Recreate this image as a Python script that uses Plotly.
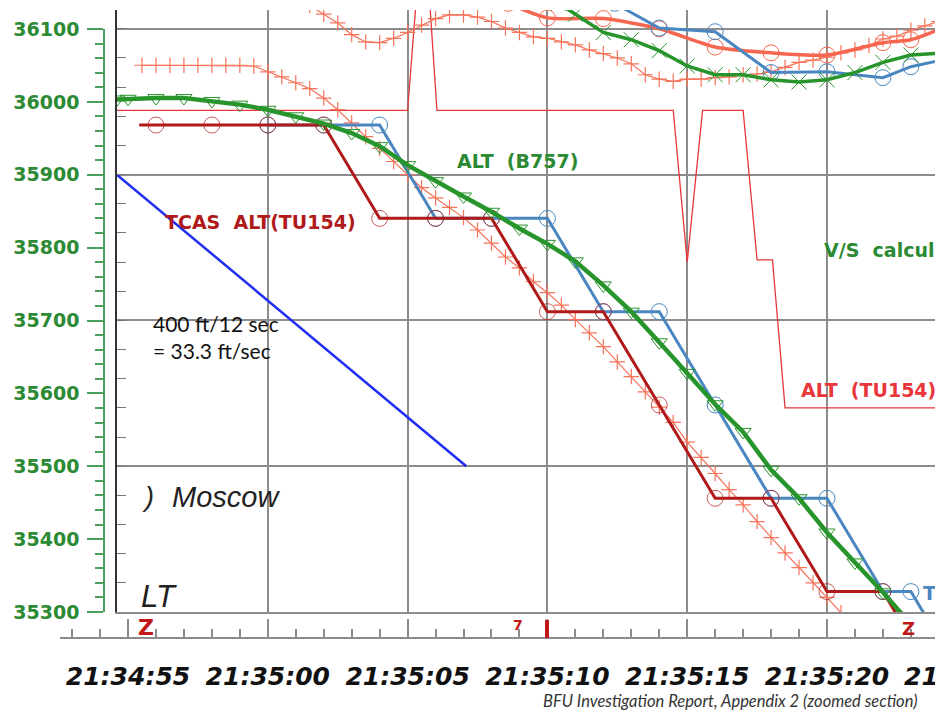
import plotly.graph_objects as go

# page body has an 8 px margin, so the figure occupies page pixels 8..943 / 8..711
OX, OY = 8, 8
W, H = 943 - OX, 711 - OY

# ---------------- data (time in seconds after 21:34:55, altitude in ft) ----------------
tick_times = [0, 5, 10, 15, 20, 25]
tick_labels = ["21:34:55", "21:35:00", "21:35:05", "21:35:10", "21:35:15", "21:35:20"]
next_tick_label = "21:35:25"

# TCAS ALT (TU154) - dark red, stepped
tcas_tu_t = [0.4, 1, 3, 5, 7, 9, 11, 13, 15, 17, 19, 21, 23, 25, 27, 29]
tcas_tu_alt = [35968, 35968, 35968, 35968, 35968, 35840, 35840, 35840, 35712, 35712,
               35584, 35456, 35456, 35328, 35328, 35200]

# TCAS ALT (B757) - blue, stepped
tcas_b7_t = [5, 7, 9, 11, 13, 15, 17, 19, 21, 23, 25, 27, 28, 30]
tcas_b7_alt = [35968, 35968, 35968, 35840, 35840, 35840, 35712, 35712, 35584, 35456,
               35456, 35328, 35328, 35200]

# ALT (B757) - green with triangles
alt_b7_t = [-0.4, 0, 1, 2, 3, 4, 5, 6, 7, 8, 9, 10, 11, 12, 13, 14, 15, 16, 17, 18, 19,
            20, 21, 22, 23, 24, 25, 26, 27, 28]
alt_b7_alt = [36003, 36004, 36005, 36005, 36001, 35996, 35989, 35980, 35970, 35957, 35939,
              35913, 35891, 35870, 35849, 35826, 35805, 35781, 35748, 35712, 35670, 35628,
              35585, 35547, 35495, 35456, 35409, 35368, 35327, 35283]

# fine altitude (TU154) - thin salmon with + markers
alt_tu_t = [0.5, 1.0, 1.5, 2.0, 2.5, 3.0, 3.5, 4.0, 4.5, 5.0, 5.5, 6.0, 6.5, 7.0, 7.5,
            8.0, 8.5, 9.0, 9.5, 10.0, 10.5, 11.0, 11.5, 12.0, 12.5, 13.0, 13.5, 14.0,
            14.5, 15.0, 15.5, 16.0, 16.5, 17.0, 17.5, 18.0, 18.5, 19.0, 19.5, 20.0,
            20.5, 21.0, 21.5, 22.0, 22.5, 23.0, 23.5, 24.0, 24.5, 25.0, 25.5]
alt_tu_alt = [36050, 36050, 36050, 36050, 36050, 36050, 36050, 36050, 36049, 36041, 36034,
              36026, 36018, 36005, 35989, 35971, 35952, 35936, 35918, 35900, 35882, 35868,
              35855, 35841, 35824, 35806, 35787, 35772, 35753, 35738, 35721, 35701, 35683,
              35664, 35643, 35623, 35602, 35581, 35560, 35533, 35512, 35490, 35468, 35447,
              35424, 35402, 35381, 35361, 35340, 35320, 35299]

# upper thin salmon trace with + markers
up_salmon_t = [6.0, 6.5, 7.0, 7.5, 8.0, 8.5, 9.0, 9.5, 10.0, 10.5, 11.0, 11.5, 12.0, 12.5,
               13.0, 13.5, 14.0, 14.5, 15.0, 15.5, 16.0, 16.5, 17.0, 17.5, 18.0, 18.5,
               19.0, 19.5, 20.0, 20.5, 21.0, 21.5, 22.0, 22.5, 23.0, 23.5, 24.0, 24.5,
               25.0, 25.5, 26.0, 26.5, 27.0, 27.5, 28.0, 28.5, 29.0]
up_salmon_alt = [36150, 36132, 36120, 36108, 36092, 36082, 36081, 36087, 36095, 36105, 36114,
                 36119, 36119, 36116, 36110, 36101, 36095, 36089, 36087, 36082, 36078,
                 36071, 36066, 36060, 36052, 36037, 36031, 36028, 36031, 36031, 36033,
                 36034, 36037, 36038, 36041, 36047, 36054, 36057, 36061, 36067, 36071,
                 36077, 36086, 36090, 36098, 36104, 36110]

# upper thick salmon trace with circles
up_thick_t = [13.6, 15, 17, 19, 21, 23, 25, 27, 28, 29.2]
up_thick_alt = [36135, 36115, 36114, 36100, 36075, 36067, 36064, 36081, 36085, 36102]

# upper blue trace with circles
up_blue_t = [17.4, 19, 21, 23, 25, 27, 28, 29.2]
up_blue_alt = [36135, 36101, 36096, 36040, 36041, 36033, 36048, 36058]

# upper green trace with X markers
up_green_t = [15.4, 16, 17, 18, 19, 20, 21, 22, 23, 24, 25, 26, 27, 28, 29.2]
up_green_alt = [36135, 36120, 36095, 36085, 36070, 36049, 36037, 36037, 36030, 36027,
                36030, 36040, 36054, 36064, 36067]

# thin red step trace (ALT TU154 / V/S)
red_step_t = [-0.4, 10.0, 10.35, 10.75, 11.05, 19.5, 20.0, 20.55, 22.0, 22.5, 23.05, 23.5, 29.2]
red_step_alt = [35988, 35988, 36160, 36160, 35988, 35988, 35780, 35988, 35988, 35783,
                35783, 35580, 35580]

# reference slope line: 400 ft / 12 sec
ref_t = [-0.4, 12.1]
ref_alt = [35900, 35500]

# ---------------- colours ----------------
GREEN = "#28952c"
GREEN_LBL = "#2b8a33"
DARKRED = "#b01a1a"
BLUE = "#4a86c0"
SALMON = "#f7735a"
THICKSALMON = "#f76650"
RED = "#e8363a"
REFBLUE = "#1f2df5"
GRID = "#8c8c8c"


def px(x):
    return (x - OX) / W


def py(y):
    return 1 - (y - OY) / H


fig = go.Figure()

fig.add_trace(go.Scatter(x=red_step_t, y=red_step_alt, mode="lines",
                         line=dict(color=RED, width=1.3)))
fig.add_trace(go.Scatter(x=alt_tu_t, y=alt_tu_alt, mode="lines+markers",
                         line=dict(color=SALMON, width=1.2),
                         marker=dict(symbol="cross-thin-open", size=11,
                                     line=dict(color=SALMON, width=1.2))))
fig.add_trace(go.Scatter(x=up_salmon_t, y=up_salmon_alt, mode="lines+markers",
                         line=dict(color=SALMON, width=1.2),
                         marker=dict(symbol="cross-thin-open", size=11,
                                     line=dict(color=SALMON, width=1.2))))
fig.add_trace(go.Scatter(x=up_thick_t, y=up_thick_alt, mode="lines+markers",
                         line=dict(color=THICKSALMON, width=3.5, shape="spline", smoothing=0.7),
                         marker=dict(symbol="circle-open", size=16,
                                     line=dict(color=THICKSALMON, width=1))))
fig.add_trace(go.Scatter(x=up_blue_t, y=up_blue_alt, mode="lines+markers",
                         line=dict(color=BLUE, width=3),
                         marker=dict(symbol="circle-open", size=16,
                                     line=dict(color=BLUE, width=1))))
fig.add_trace(go.Scatter(x=up_green_t, y=up_green_alt, mode="lines+markers",
                         line=dict(color=GREEN, width=3.5),
                         marker=dict(symbol="x-thin-open", size=15,
                                     line=dict(color="#5aa85a", width=1))))
fig.add_trace(go.Scatter(x=ref_t, y=ref_alt, mode="lines",
                         line=dict(color=REFBLUE, width=2.5)))
fig.add_trace(go.Scatter(x=tcas_b7_t, y=tcas_b7_alt, mode="lines+markers",
                         line=dict(color=BLUE, width=3),
                         marker=dict(symbol="circle-open", size=16,
                                     line=dict(color=BLUE, width=1))))
fig.add_trace(go.Scatter(x=tcas_tu_t, y=tcas_tu_alt, mode="lines+markers",
                         line=dict(color=DARKRED, width=3),
                         marker=dict(symbol="circle-open",
                                     size=[0] + [16] * (len(tcas_tu_t) - 2) + [0],
                                     line=dict(color=DARKRED, width=1))))
fig.add_trace(go.Scatter(x=alt_b7_t, y=alt_b7_alt, mode="lines+markers",
                         line=dict(color=GREEN, width=4.5),
                         marker=dict(symbol="triangle-down-open", size=14,
                                     line=dict(color="#4a9e4a", width=1))))

# dummy trace so the secondary axes render
fig.add_trace(go.Scatter(x=[None], y=[None], xaxis="x2", yaxis="y2", mode="markers"))

annotations = []


def label(text, x, y, color, size=19, family="DejaVu Sans", weight="bold", style="normal",
          xanchor="left", align="left"):
    annotations.append(dict(text=text, x=px(x), y=py(y), xref="paper", yref="paper",
                            xanchor=xanchor, yanchor="middle", showarrow=False, align=align,
                            font=dict(family=family, size=size, color=color,
                                      weight=weight, style=style)))


label("ALT  (B757)", 455, 161, GREEN_LBL)
label("TCAS  ALT(TU154)", 163, 222, DARKRED)
label("V/S  calculated", 822, 250, GREEN_LBL)
label("ALT  (TU154)", 799, 390, RED)
label("TCAS ALT(B757)", 921, 593, BLUE)
label("400 ft/12 sec<br>= 33.3 ft/sec", 151, 337, "#111111", size=21, family="Lato",
      weight="normal")
label(")", 140, 497, "#222222", size=27, family="Liberation Sans", weight="normal",
      style="italic")
label("Moscow", 170, 497, "#222222", size=29, family="Liberation Sans", weight="normal",
      style="italic")
label("LT", 139, 596, "#222222", size=31, family="Liberation Sans", weight="normal",
      style="italic")
label("BFU Investigation Report, Appendix 2 (zoomed section)", 920, 701, "#333333",
      size=16.5, family="Lato", weight="normal", style="italic", xanchor="right")
label(next_tick_label, 966, 676, "#111111", size=25, family="DejaVu Sans", style="italic",
      xanchor="center")
label("Z", 136, 627, "#c01818", size=22)
label("7", 511, 625, "#c01818", size=14)
label("Z", 900, 628, "#c01818", size=18)

shapes = [dict(type="line", xref="paper", yref="paper", x0=px(547), x1=px(547),
               y0=py(620), y1=py(638), line=dict(color="#c01818", width=4))]

x_left = (117 - 128) / 27.96
x_right = (943 - 128) / 27.96
x2_left = (60 - 128) / 27.96
y_top = 35300 + (612 - 10) / 0.729

fig.update_layout(
    width=W, height=H,
    margin=dict(l=0, r=0, t=0, b=0, pad=0),
    paper_bgcolor="white",
    plot_bgcolor="rgba(0,0,0,0)",
    showlegend=False,
    annotations=annotations,
    shapes=shapes,
    xaxis=dict(domain=[px(117), 1], range=[x_left, x_right], tickmode="array",
               tickvals=tick_times[1:], showticklabels=False, ticks="",
               showgrid=True, gridcolor=GRID, gridwidth=1.5, zeroline=False,
               showline=True, linecolor=GRID, linewidth=1.5, anchor="y",
               automargin=False),
    yaxis=dict(domain=[py(612), py(10)], range=[35300, y_top], tickmode="linear",
               tick0=35300, dtick=200, showticklabels=False, ticks="inside", ticklen=9,
               tickcolor="#777777", showgrid=True, gridcolor=GRID, gridwidth=1.5,
               zeroline=False, showline=True, linecolor="#333333", linewidth=2,
               minor=dict(tickmode="linear", tick0=35300, dtick=40, ticks="inside",
                          ticklen=9, tickcolor="#777777", showgrid=False),
               anchor="x", automargin=False),
    xaxis2=dict(domain=[px(60), 1], range=[x2_left, x_right], anchor="free",
                position=py(638), tickmode="array", tickvals=tick_times,
                ticktext=tick_labels, ticks="inside", ticklen=18, tickcolor=GRID,
                tickwidth=1.5, showline=True, linecolor=GRID, linewidth=1.5,
                showgrid=False, zeroline=False, ticklabelstandoff=16, automargin=False,
                tickfont=dict(family="DejaVu Sans", size=25, color="#111111",
                              weight="bold", style="italic"),
                minor=dict(tickmode="linear", tick0=0, dtick=1, ticks="inside",
                           ticklen=8, tickcolor=GRID, tickwidth=1.5, showgrid=False)),
    yaxis2=dict(domain=[py(612), py(29)], range=[35300, 36100], anchor="free",
                position=px(104), side="left", tickmode="linear", tick0=35300, dtick=100,
                tickformat="d", automargin=False,
                ticks="outside", ticklen=16, tickcolor="#4aa05a", tickwidth=1.5,
                showline=True, linecolor="#4aa05a", linewidth=1.5, showgrid=False,
                zeroline=False, ticklabelstandoff=4,
                tickfont=dict(family="DejaVu Sans", size=19, color=GREEN_LBL, weight="bold"),
                minor=dict(tickmode="linear", tick0=35300, dtick=20, ticks="outside",
                           ticklen=8, tickcolor="#4aa05a", tickwidth=1.5, showgrid=False)),
)

fig.write_html("out.html")
